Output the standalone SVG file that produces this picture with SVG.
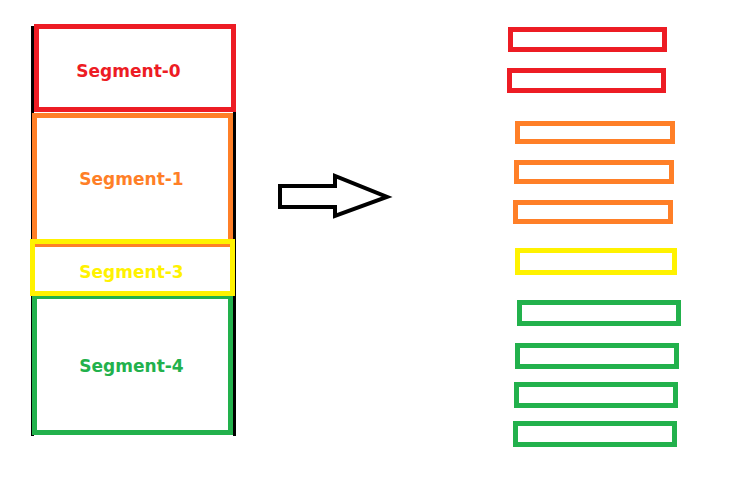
<svg xmlns="http://www.w3.org/2000/svg" width="754" height="481" viewBox="0 0 754 481">
<style>
.b{fill:none;stroke-width:5}
.r{stroke:#ED1C24}.o{stroke:#FF7F27}.y{stroke:#FFF200}.g{stroke:#22B14C}
.t{font-family:"DejaVu Sans",sans-serif;font-weight:bold;font-size:17px;text-anchor:middle}
</style>
<rect width="754" height="481" fill="#fff"/>
<g id="frame">
<rect x="31" y="26" width="3" height="410" fill="#000"/>
<rect x="233" y="112" width="3" height="324" fill="#000"/>
</g>
<g id="seg0"><rect class="b r" x="36.5" y="26.5" width="197" height="83"/><text class="t" x="128.5" y="77" fill="#ED1C24">Segment-0</text></g>
<g id="seg1"><rect class="b o" x="34.5" y="115.5" width="196" height="129"/><text class="t" x="131.5" y="185" fill="#FF7F27">Segment-1</text></g>
<g id="seg4"><rect class="b g" x="34.5" y="296.5" width="196" height="136"/><text class="t" x="131.5" y="372" fill="#22B14C">Segment-4</text></g>
<g id="seg3"><rect class="b y" x="32.5" y="241.5" width="200" height="52"/><text class="t" x="131.5" y="278" fill="#FFF200">Segment-3</text></g>
<g id="connectors">
<polygon points="280,186 335,186 335,176 387,197 335,216 335,207 280,207" fill="#fff" stroke="#000" stroke-width="4" stroke-linejoin="miter"/>
</g>
<g id="chunks">
<rect class="b r" x="510.5" y="29.5" width="154" height="20"/>
<rect class="b r" x="509.5" y="70.5" width="154" height="20"/>
<rect class="b o" x="517.5" y="123.5" width="155" height="18"/>
<rect class="b o" x="516.5" y="162.5" width="155" height="19"/>
<rect class="b o" x="515.5" y="202.5" width="155" height="19"/>
<rect class="b y" x="517.5" y="250.5" width="157" height="22"/>
<rect class="b g" x="519.5" y="302.5" width="159" height="21"/>
<rect class="b g" x="517.5" y="345.5" width="159" height="21"/>
<rect class="b g" x="516.5" y="384.5" width="159" height="21"/>
<rect class="b g" x="515.5" y="423.5" width="159" height="21"/>
</g>
</svg>
